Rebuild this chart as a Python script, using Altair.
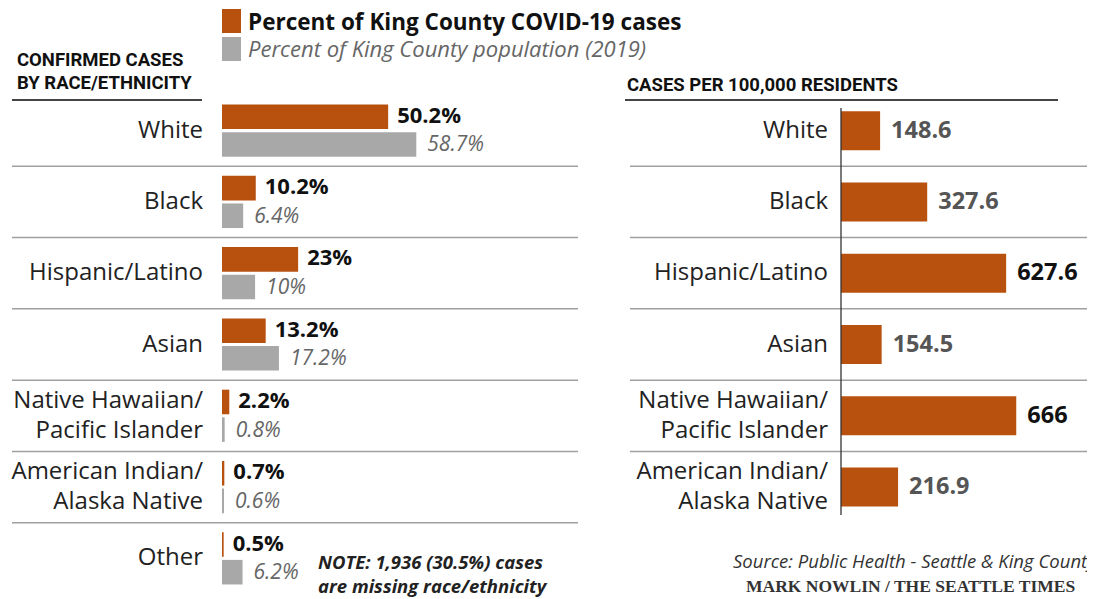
import altair as alt
import pandas as pd

# ---------------- data ----------------
categories = ["White", "Black", "Hispanic/Latino", "Asian",
              "Native Hawaiian/Pacific Islander", "American Indian/Alaska Native", "Other"]
category_labels = ["White", "Black", "Hispanic/Latino", "Asian",
                   "Native Hawaiian/\nPacific Islander", "American Indian/\nAlaska Native", "Other"]
pct_cases = [50.2, 10.2, 23, 13.2, 2.2, 0.7, 0.5]
pct_population = [58.7, 6.4, 10, 17.2, 0.8, 0.6, 6.2]
series_names = ["cases", "population"]

rate_categories = categories[:6]
rate_labels = category_labels[:6]
cases_per_100k = [148.6, 327.6, 627.6, 154.5, 666, 216.9]

legend_texts = ["Percent of King County COVID-19 cases", "Percent of King County population (2019)"]
left_header = "CONFIRMED CASES\nBY RACE/ETHNICITY"
right_header = "CASES PER 100,000 RESIDENTS"
note_text = "NOTE: 1,936 (30.5%) cases\nare missing race/ethnicity"
source_text = "Source: Public Health - Seattle & King County"
credit_text = "MARK NOWLIN / THE SEATTLE TIMES"

# ---------------- style ----------------
ORANGE = "#B8500E"
GRAY = "#A8A8A8"
FONT = "Open Sans"
LABEL_SIZE = 24
LINE_H = 30
W, H = 1079, 591

pct_df = pd.DataFrame({
    "category": categories * 2,
    "series": [series_names[0]] * len(categories) + [series_names[1]] * len(categories),
    "value": pct_cases + pct_population,
})
cat_df = pd.DataFrame({"category": categories, "label": category_labels})
rate_df = pd.DataFrame({"category": rate_categories, "label": rate_labels, "rate": cases_per_100k})
one = pd.DataFrame({"k": [0]})

y_scale = alt.Scale(domain=categories, range=[87, 586], paddingInner=0, paddingOuter=0)
yoff_scale = alt.Scale(domain=series_names, paddingInner=0.11, paddingOuter=0.345)
x_left = alt.Scale(domain=[0, 100], range=[214, 545], nice=False)
x_right = alt.Scale(domain=[0, 700], range=[833, 1017.2], nice=False)

Y = alt.Y("category:N", scale=y_scale, axis=None, sort=categories)
Ysep = alt.Y("category:N", scale=y_scale, axis=None, sort=categories, bandPosition=0)
YOFF = alt.YOffset("series:N", scale=yoff_scale)
XL = alt.X("value:Q", scale=x_left, axis=None)
XR = alt.X("rate:Q", scale=x_right, axis=None)

MULTI = "indexof(datum.label, '\\n') >= 0"
SINGLE = "indexof(datum.label, '\\n') < 0"


def category_text(df, xpos):
    style = dict(align="right", baseline="middle", lineBreak="\n", lineHeight=LINE_H,
                 font=FONT, fontSize=LABEL_SIZE, color="#222")
    single = alt.Chart(df).transform_filter(SINGLE).mark_text(**style).encode(
        x=alt.value(xpos), y=Y, text="label:N")
    multi = alt.Chart(df).transform_filter(MULTI).mark_text(dy=-LINE_H / 2, **style).encode(
        x=alt.value(xpos), y=Y, text="label:N")
    return alt.layer(single, multi)


# ---------------- left panel ----------------
left_bars = alt.Chart(pct_df).mark_bar().encode(
    x=XL, y=Y, yOffset=YOFF,
    color=alt.Color("series:N", scale=alt.Scale(domain=series_names, range=[ORANGE, GRAY]), legend=None),
)
case_vals = alt.Chart(pct_df).transform_filter(alt.datum.series == "cases").transform_calculate(
    txt="format(datum.value, '.1~f') + '%'"
).mark_text(align="left", baseline="middle", dx=9, dy=-1, font=FONT, fontSize=22,
            fontWeight="bold", color="#111").encode(x=XL, y=Y, yOffset=YOFF, text="txt:N")
pop_vals = alt.Chart(pct_df).transform_filter(alt.datum.series == "population").transform_calculate(
    txt="format(datum.value, '.1~f') + '%'"
).mark_text(align="left", baseline="middle", dx=11, dy=1, font=FONT, fontSize=21,
            fontStyle="italic", color="#666").encode(x=XL, y=Y, yOffset=YOFF, text="txt:N")
left_seps = alt.Chart(cat_df.iloc[1:]).mark_rule(color="#A0A0A0", strokeWidth=1.5).encode(
    y=Ysep, x=alt.value(4), x2=alt.value(570))

left = alt.layer(left_seps, left_bars, case_vals, pop_vals, category_text(cat_df, 195))

# ---------------- right panel ----------------
right_bars = alt.Chart(rate_df).mark_bar(size=39, color=ORANGE).encode(x=XR, y=Y)
right_vals = alt.Chart(rate_df).transform_calculate(
    txt="format(datum.rate, '.1~f')"
).mark_text(align="left", baseline="middle", dx=11, font=FONT, fontSize=23.5, fontWeight="bold").encode(
    x=XR, y=Y, text="txt:N",
    color=alt.condition(alt.datum.rate > 500, alt.value("#111"), alt.value("#555")),
)
right_seps = alt.Chart(rate_df.iloc[1:]).mark_rule(color="#A0A0A0", strokeWidth=1.5).encode(
    y=Ysep, x=alt.value(622), x2=alt.value(1079))
right_axis = alt.Chart(one).mark_rule(color="#333", strokeWidth=1.3).encode(
    x=alt.X(datum=0, scale=x_right, axis=None), y=alt.value(100), y2=alt.value(507))

right = alt.layer(right_seps, right_bars, right_axis, right_vals, category_text(rate_df, 820))

# ---------------- annotations ----------------
def txt(s, x, y, **kw):
    return alt.Chart(pd.DataFrame({"t": [s]})).mark_text(lineBreak="\n", **kw).encode(
        text="t:N", x=alt.value(x), y=alt.value(y))

leg_box1 = alt.Chart(one).mark_rect(color=ORANGE).encode(
    x=alt.value(214), x2=alt.value(233), y=alt.value(1), y2=alt.value(25))
leg_box2 = alt.Chart(one).mark_rect(color=GRAY).encode(
    x=alt.value(214), x2=alt.value(233), y=alt.value(29), y2=alt.value(53))
leg_t1 = txt(legend_texts[0], 240, 14.5, align="left", baseline="middle", font=FONT,
             fontSize=22.5, fontWeight="bold", color="#111")
leg_t2 = txt(legend_texts[1], 240, 42, align="left", baseline="middle", font=FONT,
             fontSize=22, fontStyle="italic", color="#666")
lh = txt(left_header, 9, 52, align="left", baseline="middle", font="Roboto",
         fontSize=18.5, fontWeight="bold", color="#111", lineHeight=23)
lh_line = alt.Chart(one).mark_rule(color="#444", strokeWidth=2.2).encode(
    x=alt.value(4), x2=alt.value(194), y=alt.value(92))
rh = txt(right_header, 619, 77, align="left", baseline="middle", font="Roboto",
         fontSize=18.5, fontWeight="bold", color="#111")
rh_line = alt.Chart(one).mark_rule(color="#444", strokeWidth=2.2).encode(
    x=alt.value(617), x2=alt.value(1050), y=alt.value(92))
note = txt(note_text, 310, 555, align="left", baseline="middle", font=FONT,
           fontSize=18.5, fontStyle="italic", fontWeight="bold", color="#222", lineHeight=24)
src = txt(source_text, 725, 554, align="left", baseline="middle", font=FONT,
          fontSize=18.5, fontStyle="italic", color="#333")
credit = txt(credit_text, 738, 579, align="left", baseline="middle", font="Liberation Serif",
             fontSize=17.5, fontWeight="bold", color="#333")

annos = alt.layer(leg_box1, leg_box2, leg_t1, leg_t2, lh, lh_line, rh, rh_line, note, src, credit)

chart = alt.layer(left, right, annos).resolve_scale(x="independent").properties(
    width=W, height=H, padding=0, background="white",
    autosize=alt.AutoSizeParams(type="none"),
).configure_view(stroke=None)

chart.save("out.html", embed_options={"renderer": "svg", "actions": False})
